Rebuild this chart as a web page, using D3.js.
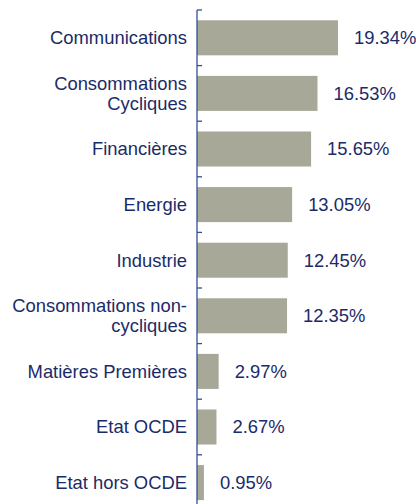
<!DOCTYPE html>
<html>
<head>
<meta charset="utf-8">
<script src="https://cdn.jsdelivr.net/npm/d3@7"></script>
<style>
  html, body { margin: 0; padding: 0; background: #fff; }
  svg { display: block; font-family: "Liberation Sans", Arial, sans-serif; }
</style>
</head>
<body>
<div id="chart"></div>
<script>
const width = 416;
const height = 504;

// Data
const categories = [
  "Communications",
  "Consommations\nCycliques",
  "Financières",
  "Energie",
  "Industrie",
  "Consommations non-\ncycliques",
  "Matières Premières",
  "Etat OCDE",
  "Etat hors OCDE"
];
const values = [19.34, 16.53, 15.65, 13.05, 12.45, 12.35, 2.97, 2.67, 0.95];
const valueLabels = ["19.34%", "16.53%", "15.65%", "13.05%", "12.45%", "12.35%", "2.97%", "2.67%", "0.95%"];

const textColor = "#1b2b68";
const axisColor = "#34508f";
const barColor = "#a8a898";

const rows = categories.map((c, i) => ({ cat: c, value: values[i], label: valueLabels[i] }));

const svg = d3.select("#chart")
  .append("svg")
  .attr("width", width)
  .attr("height", height);

const axisX = 197;

const x = d3.scaleLinear()
  .domain([0, 20])
  .range([axisX, axisX + 145.8]);

const y = d3.scaleBand()
  .domain(categories)
  .range([10, 510.4])
  .paddingInner(0.37)
  .paddingOuter(0.185);

const step = y.step();

// Bars
svg.append("g")
  .selectAll("rect")
  .data(rows)
  .join("rect")
  .attr("x", x(0))
  .attr("y", d => y(d.cat))
  .attr("width", d => x(d.value) - x(0))
  .attr("height", y.bandwidth())
  .attr("fill", barColor);

// Axis line and ticks at band boundaries
const axisG = svg.append("g");
axisG.append("line")
  .attr("x1", axisX).attr("x2", axisX)
  .attr("y1", y.range()[0]).attr("y2", y.range()[1])
  .attr("stroke", axisColor)
  .attr("stroke-width", 1.3);

axisG.selectAll("line.tick")
  .data(d3.range(categories.length + 1))
  .join("line")
  .attr("class", "tick")
  .attr("x1", axisX).attr("x2", axisX + 5)
  .attr("y1", i => y.range()[0] + i * step)
  .attr("y2", i => y.range()[0] + i * step)
  .attr("stroke", axisColor)
  .attr("stroke-width", 1.3);

// Category labels
const lineH = 20;
svg.append("g")
  .selectAll("text")
  .data(rows)
  .join("text")
  .attr("text-anchor", "end")
  .attr("fill", textColor)
  .style("font-size", "18.4px")
  .each(function (d) {
    const lines = d.cat.split("\n");
    const cy = y(d.cat) + y.bandwidth() / 2;
    const t = d3.select(this);
    lines.forEach((ln, j) => {
      t.append("tspan")
        .attr("x", axisX - 10)
        .attr("y", cy + (j - (lines.length - 1) / 2) * lineH)
        .attr("dy", "0.35em")
        .text(ln);
    });
  });

// Value labels
svg.append("g")
  .selectAll("text")
  .data(rows)
  .join("text")
  .attr("x", d => x(d.value) + 16)
  .attr("y", d => y(d.cat) + y.bandwidth() / 2)
  .attr("dy", "0.35em")
  .attr("fill", textColor)
  .style("font-size", "18.4px")
  .text(d => d.label);
</script>
</body>
</html>
